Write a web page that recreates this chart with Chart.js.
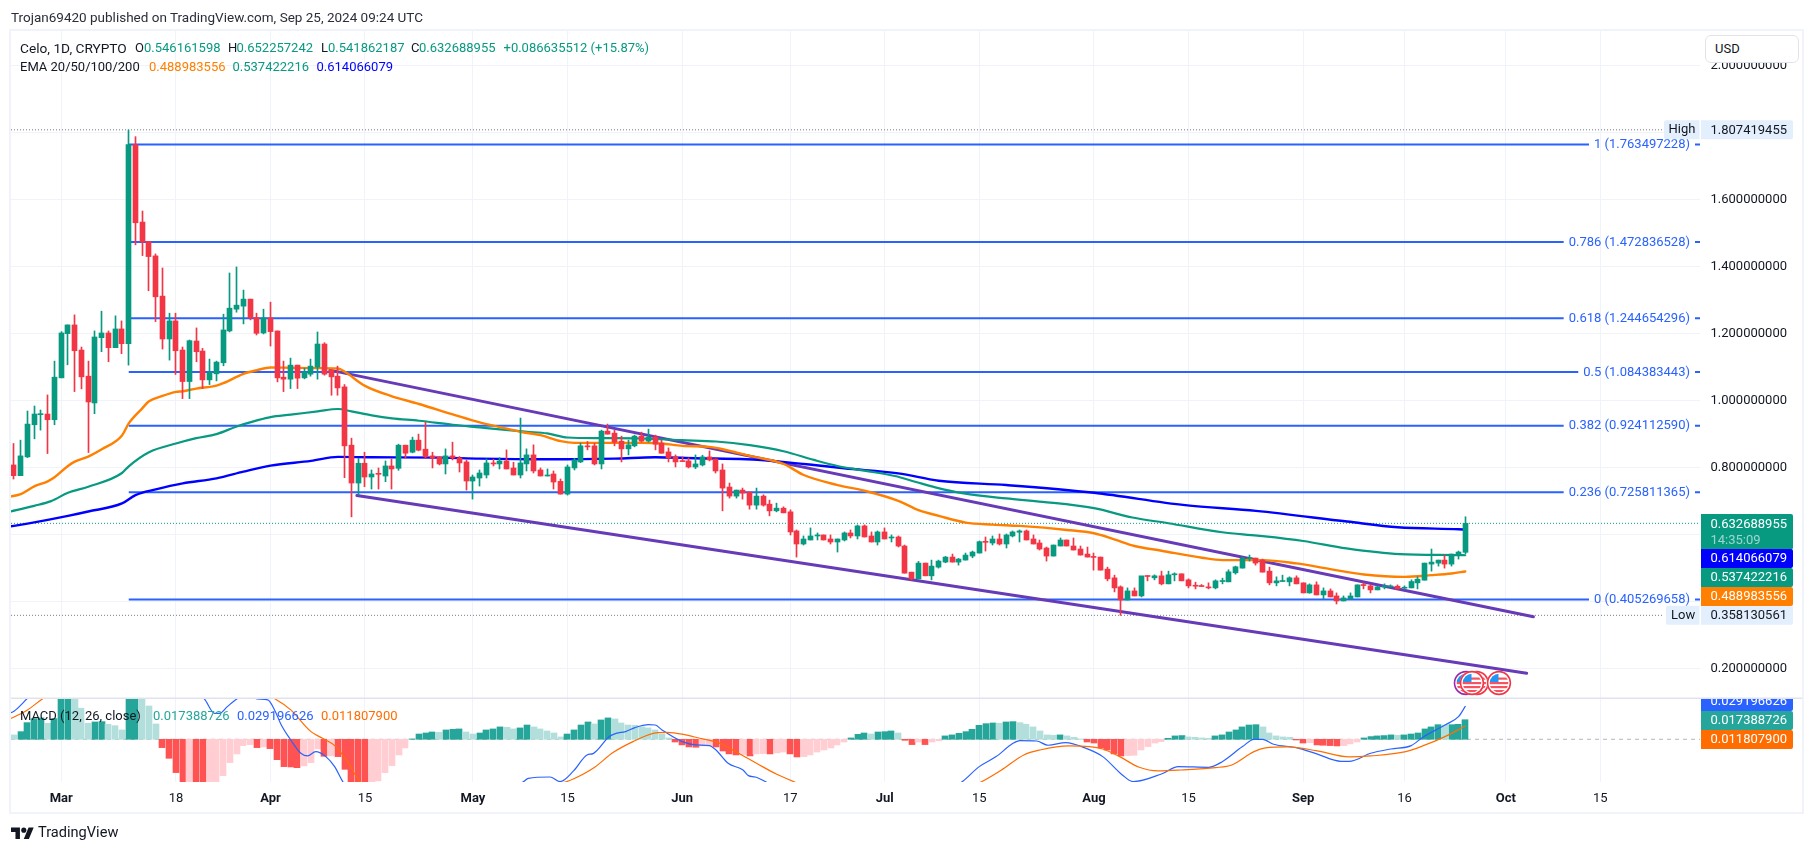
<!DOCTYPE html>
<html><head><meta charset="utf-8">
<script src="https://cdn.jsdelivr.net/npm/chart.js@4"></script>
<style>
html,body{margin:0;padding:0;background:#fff;width:1814px;height:853px;overflow:hidden}
canvas{position:absolute;left:0;top:0}
.t{position:absolute;font:13px Roboto,sans-serif;color:#131722;white-space:pre;line-height:16px}
</style></head><body>
<canvas id="c" width="1814" height="853"></canvas>
<div class="t" style="left:11px;top:9px;color:#2a2e39;font-size:13.5px">Trojan69420 published on TradingView.com, Sep 25, 2024 09:24 UTC</div>
<div class="t" style="left:20px;top:40px;font-size:13.7px">Celo, 1D, CRYPTO</div>
<div class="t" style="left:135px;top:40px">O</div><div class="t" style="left:144px;top:40px;color:#089981">0.546161598</div>
<div class="t" style="left:228px;top:40px">H</div><div class="t" style="left:236.5px;top:40px;color:#089981">0.652257242</div>
<div class="t" style="left:321px;top:40px">L</div><div class="t" style="left:328px;top:40px;color:#089981">0.541862187</div>
<div class="t" style="left:411px;top:40px">C</div><div class="t" style="left:419px;top:40px;color:#089981">0.632688955</div>
<div class="t" style="left:503.5px;top:40px;color:#089981">+0.086635512 (+15.87%)</div>
<div class="t" style="left:20px;top:59px">EMA 20/50/100/200</div>
<div class="t" style="left:149px;top:59px;color:#ff7f00">0.488983556</div>
<div class="t" style="left:232.5px;top:59px;color:#089981">0.537422216</div>
<div class="t" style="left:316.5px;top:59px;color:#0000ff">0.614066079</div>
<div class="t" style="left:20px;top:708px">MACD (12, 26, close)</div>
<div class="t" style="left:153px;top:708px;color:#26a69a">0.017388726</div>
<div class="t" style="left:237px;top:708px;color:#2962ff">0.029196626</div>
<div class="t" style="left:321px;top:708px;color:#ff6d00">0.011807900</div>
<div style="position:absolute;left:1705px;top:35px;width:92px;height:26px;border:1px solid #e0e3eb;border-radius:6px;background:#fff"></div>
<div class="t" style="left:1715px;top:41px">USD</div>
<svg style="position:absolute;left:11px;top:824.5px" width="23" height="18" viewBox="0 0 36 28"><path fill="#131722" d="M14 22H7V11H0V4h14v18zM28 22h-8l7.5-18h8L28 22z"/><circle fill="#131722" cx="20" cy="8" r="4"/></svg>
<div class="t" style="left:38px;top:824px;font-size:14.6px;color:#131722">TradingView</div>
<script>
const opens=[.807,.775,.831,.927,.957,.959,.942,1.067,1.199,1.225,
1.150,1.072,.992,1.187,1.201,1.157,1.213,1.169,1.763,1.532,
1.474,1.431,1.311,1.183,1.237,1.150,1.056,1.177,1.147,1.061,
1.079,1.112,1.207,1.272,1.281,1.302,1.247,1.201,1.246,1.207,
1.069,1.063,1.105,1.067,1.078,1.099,1.168,1.090,1.072,1.040,
.866,.753,.812,.771,.780,.774,.804,.797,.866,.845,
.881,.854,.834,.831,.810,.834,.828,.816,.759,.768,
.777,.813,.810,.819,.798,.777,.810,.837,.792,.774,
.780,.758,.720,.798,.816,.863,.864,.810,.908,.902,
.878,.855,.864,.893,.878,.890,.872,.846,.831,.819,
.819,.801,.807,.831,.825,.792,.741,.714,.732,.726,
.687,.714,.690,.670,.678,.667,.610,.571,.583,.595,
.598,.586,.577,.583,.604,.595,.625,.595,.577,.607,
.589,.592,.565,.487,.467,.514,.476,.502,.517,.532,
.517,.523,.535,.544,.578,.574,.586,.571,.595,.606,
.610,.586,.574,.559,.535,.565,.583,.565,.556,.541,
.534,.532,.496,.470,.443,.404,.431,.416,.476,.470,
.476,.452,.479,.482,.464,.447,.446,.442,.440,.459,
.458,.485,.499,.527,.529,.523,.490,.455,.459,.458,
.470,.455,.425,.449,.419,.431,.416,.401,.407,.413,
.449,.446,.434,.443,.443,.445,.439,.440,.455,.463,
.511,.514,.523,.511,.538,.5462];
const highs=[.871,.881,.968,.983,.971,1.016,1.117,1.205,1.225,1.255,
1.159,1.117,1.207,1.266,1.207,1.252,1.237,1.807,1.787,1.565,
1.474,1.437,1.395,1.260,1.260,1.159,1.180,1.216,1.155,1.123,
1.117,1.257,1.380,1.398,1.329,1.302,1.260,1.272,1.293,1.207,
1.117,1.126,1.105,1.096,1.123,1.204,1.172,1.090,1.102,1.047,
.887,.827,.845,.792,.798,.819,.825,.869,.866,.890,
.899,.935,.845,.831,.855,.875,.832,.822,.777,.792,
.825,.824,.829,.852,.815,.947,.855,.867,.798,.795,
.789,.765,.807,.827,.872,.877,.872,.911,.929,.911,
.893,.881,.896,.905,.914,.896,.881,.858,.837,.831,
.828,.837,.836,.849,.825,.810,.753,.732,.738,.726,
.738,.718,.702,.693,.682,.673,.613,.595,.619,.604,
.598,.598,.586,.607,.613,.628,.628,.607,.610,.619,
.598,.595,.568,.487,.519,.514,.523,.523,.534,.541,
.528,.544,.550,.580,.592,.595,.601,.601,.610,.613,
.613,.598,.583,.562,.568,.589,.583,.589,.565,.562,
.544,.532,.502,.478,.446,.440,.440,.452,.476,.479,
.490,.490,.485,.482,.467,.457,.450,.455,.464,.469,
.494,.505,.532,.538,.529,.526,.502,.473,.478,.473,
.476,.455,.452,.458,.440,.437,.425,.416,.425,.449,
.455,.449,.446,.452,.449,.449,.446,.464,.473,.514,
.556,.523,.538,.541,.550,.6523];
const lows=[.765,.775,.829,.885,.911,.841,.927,1.067,1.106,1.026,
1.034,.844,.960,1.145,1.115,1.157,1.139,1.105,1.464,1.432,
1.327,1.235,1.153,1.120,1.077,1.005,1.005,1.115,1.035,1.047,
1.058,1.103,1.204,1.263,1.228,1.240,1.195,1.198,1.162,1.055,
1.026,1.035,1.035,1.064,1.072,1.063,1.075,1.015,1.015,.769,
.652,.717,.742,.735,.735,.757,.735,.791,.828,.843,
.849,.828,.798,.807,.780,.822,.786,.732,.705,.744,
.768,.804,.795,.795,.777,.768,.789,.783,.774,.774,
.735,.720,.717,.792,.814,.852,.807,.795,.899,.864,
.816,.837,.861,.875,.875,.852,.842,.816,.801,.817,
.798,.796,.804,.819,.783,.670,.708,.708,.705,.675,
.675,.684,.655,.667,.664,.598,.532,.568,.583,.583,
.583,.571,.547,.580,.589,.586,.592,.577,.568,.586,
.577,.562,.484,.464,.467,.476,.464,.499,.515,.517,
.508,.523,.530,.544,.550,.568,.568,.559,.592,.577,
.583,.571,.553,.520,.535,.565,.565,.553,.538,.532,
.493,.493,.461,.428,.358,.404,.416,.413,.461,.464,
.449,.452,.461,.461,.440,.437,.444,.437,.437,.452,
.458,.481,.499,.520,.508,.487,.449,.446,.459,.446,
.452,.425,.424,.419,.407,.413,.392,.401,.407,.413,
.437,.425,.434,.437,.442,.437,.436,.440,.437,.463,
.490,.505,.499,.505,.526,.5419];
const closes=[.775,.834,.929,.959,.959,.942,1.069,1.201,1.225,1.148,
1.070,.995,1.189,1.201,1.157,1.213,1.169,1.763,1.530,1.473,
1.429,1.309,1.183,1.237,1.148,1.056,1.178,1.145,1.061,1.084,
1.114,1.210,1.275,1.284,1.302,1.246,1.200,1.246,1.205,1.067,
1.063,1.105,1.066,1.084,1.102,1.168,1.078,1.070,1.037,.864,
.753,.812,.771,.780,.779,.804,.795,.866,.842,.881,
.851,.831,.828,.810,.834,.828,.813,.759,.771,.783,
.813,.810,.819,.795,.777,.813,.837,.789,.774,.777,
.756,.720,.801,.822,.864,.861,.810,.908,.899,.875,
.855,.867,.893,.878,.890,.869,.842,.828,.816,.817,
.801,.810,.831,.822,.789,.738,.714,.732,.723,.687,
.714,.687,.670,.678,.664,.607,.571,.586,.595,.598,
.583,.577,.586,.604,.595,.625,.592,.577,.607,.586,
.592,.565,.484,.467,.514,.476,.505,.520,.532,.517,
.526,.538,.547,.578,.576,.586,.571,.598,.607,.610,
.583,.571,.556,.535,.568,.583,.565,.553,.538,.532,
.531,.493,.467,.440,.404,.431,.416,.476,.474,.476,
.452,.479,.482,.461,.446,.445,.444,.440,.461,.461,
.488,.503,.529,.529,.514,.487,.455,.461,.461,.470,
.452,.425,.449,.419,.431,.413,.401,.410,.416,.449,
.447,.434,.443,.445,.445,.437,.442,.459,.466,.514,
.517,.523,.511,.541,.547,.6327];

const tickDays=[7,24,38,52,68,82,99,115,129,143,160,174,191,206,221,235];
const tickLabels=['Mar','18','Apr','15','May','15','Jun','17','Jul','15','Aug','15','Sep','16','Oct','15'];
const monthTickDays=[7,38,68,99,129,160,191,221];
const priceTicks=[2,1.8,1.6,1.4,1.2,1,.8,.6,.4,.2];

const fibLevels=['1','0.786','0.618','0.5','0.382','0.236','0'];
const fibValues=[1.763497228,1.472836528,1.244654296,1.084383443,.924112590,.725811365,.405269658];
const fibStartDay=17;
const highValue=1.807419455, lowValue=.358130561, lastClose=.632688955;

const trendUpperDays=[46.8,225.1], trendUpperValues=[1.090,.354];
const trendLowerDays=[50.8,224.1], trendLowerValues=[.716,.185];

const emaOrangeDays=[-1,1,3,5,6,8,9,11,13,16,17,19,20,22,24,25,27,30,31,34,36,38,41,45,48,49,52,56,60,65,69,72,75,78,81,83,87,93,96,99,103,105,109,114,117,122,126,131,134,137,141,145,149,156,160,163,166,170,176,179,185,190,195,200,206,210,213,215];
const emaOrangeValues=[.711,.720,.743,.758,.770,.804,.817,.832,.854,.895,.931,.976,.997,1.013,1.025,1.027,1.035,1.044,1.051,1.079,1.090,1.098,1.097,1.096,1.095,1.085,1.043,1.012,.989,.958,.934,.920,.906,.896,.878,.873,.873,.873,.871,.864,.861,.854,.834,.810,.777,.747,.730,.700,.672,.655,.635,.629,.625,.613,.603,.585,.565,.551,.530,.523,.523,.513,.496,.480,.473,.478,.483,.489];
const emaGreenDays=[-1,3,5.5,8,11,16,17,20,24,27,30,33,36,38,41,45,48,50,53,56,60,65,69,72,76,79,82,87,93,99,104,109,114,118.5,122,126,130.5,133.5,136.5,140.7,147,152.4,160,165.7,171,179,184.2,191,197.4,205.3,214,215];
const emaGreenValues=[.666,.685,.699,.724,.742,.783,.803,.845,.871,.887,.899,.922,.940,.950,.957,.967,.974,.967,.955,.946,.939,.927,.919,.913,.906,.901,.889,.887,.886,.881,.877,.866,.848,.822,.804,.790,.774,.757,.740,.722,.707,.697,.678,.650,.633,.606,.596,.580,.558,.541,.538,.5374];
const emaBlueDays=[-1,2,5,8,11,16,18,21,25,30,34,38,44,48,53,63,69,79,89,95,101,108.5,113.5,118.5,123,131,137,147,160,173.5,184,197.5,205,214,215];
const emaBlueValues=[.622,.632,.643,.655,.668,.692,.717,.734,.752,.767,.787,.805,.819,.831,.830,.829,.826,.824,.826,.830,.827,.824,.817,.807,.797,.782,.760,.747,.724,.687,.670,.638,.621,.615,.614];

const macdHist=[.0039,.0068,.0148,.0184,.0190,.0142,.0184,.0385,.0391,.0370,
.0276,.0142,.0154,.0157,.0133,.0121,.0083,.0400,.0415,.0385,
.0296,.0136,-.0074,-.0169,-.0296,-.0400,-.0385,-.0400,-.0415,-.0391,
-.0379,-.0323,-.0207,-.0130,-.0056,-.0047,-.0074,-.0068,-.0083,-.0181,
-.0243,-.0246,-.0252,-.0237,-.0207,-.0086,-.0151,-.0148,-.0154,-.0267,
-.0400,-.0403,-.0406,-.0394,-.0370,-.0296,-.0234,-.0139,-.0077,.0003,
.0047,.0056,.0065,.0062,.0083,.0089,.0092,.0065,.0047,.0056,
.0083,.0092,.0110,.0107,.0092,.0101,.0127,.0110,.0092,.0074,
.0056,.0021,.0047,.0083,.0127,.0154,.0136,.0172,.0190,.0181,
.0145,.0127,.0124,.0110,.0101,.0083,.0047,.0012,-.0024,-.0050,
-.0068,-.0071,-.0059,-.0056,-.0068,-.0104,-.0130,-.0139,-.0136,-.0148,
-.0130,-.0127,-.0130,-.0121,-.0113,-.0130,-.0157,-.0154,-.0139,-.0113,
-.0095,-.0077,-.0050,-.0024,.0012,.0044,.0056,.0047,.0065,.0068,
.0074,.0056,-.0009,-.0047,-.0024,-.0047,-.0024,-.0012,.0030,.0039,
.0053,.0068,.0089,.0124,.0139,.0145,.0142,.0154,.0157,.0148,
.0133,.0110,.0074,.0039,.0036,.0039,.0030,.0018,.0003,-.0024,
-.0033,-.0077,-.0095,-.0130,-.0148,-.0145,-.0142,-.0095,-.0065,-.0033,
-.0021,.0009,.0030,.0033,.0021,.0018,.0012,.0009,.0030,.0039,
.0065,.0083,.0110,.0127,.0130,.0110,.0056,.0030,.0021,.0018,
-.0006,-.0033,-.0030,-.0050,-.0053,-.0056,-.0059,-.0056,-.0041,-.0024,
.0012,.0024,.0030,.0033,.0039,.0036,.0039,.0047,.0056,.0092,
.0110,.0130,.0127,.0130,.0133,.0174];
const macdDays=[-1,0,2,4,7,12,17,22,26,28.2,29.7,30.5,31.6,33,34.5,36,37.6,38.6,39.6,41,42.5,43.5,44.7,46.2,47.5,48.7,52,58,65,72,75.5,76.2,79.4,80.9,82.9,84.9,85.8,88.2,89.2,90.6,92,94,95,96,99,101,103,104,105.8,108,108.8,109.8,111.3,116,124,130,136,140.5,143,145.5,148,149,151.5,153.2,155.8,158.8,161.3,164.2,165.8,170,172.5,177,179,182,183.7,185,186.6,190,193,196.6,197.8,201,204,207,208.7,212,214,215];
const macdValues=[.0225,.0250,.0365,.0480,.0620,.0750,.0850,.0700,.0450,.0359,.0231,.0231,.0290,.0359,.0400,.0359,.0350,.0261,.0127,-.0006,-.0124,-.0148,-.0110,-.0154,-.0243,-.0376,-.0650,-.0900,-.0700,-.0500,-.0376,-.0347,-.0335,-.0376,-.0281,-.0139,-.0127,.0024,.0053,.0068,.0104,.0130,.0127,.0083,-.0021,-.0050,-.0056,-.0095,-.0213,-.0273,-.0323,-.0335,-.0376,-.0550,-.0750,-.0700,-.0550,-.0376,-.0243,-.0154,-.0036,-.0012,-.0015,-.0053,-.0030,-.0080,-.0154,-.0317,-.0376,-.0308,-.0243,-.0249,-.0199,-.0065,0,0,-.0044,-.0074,-.0130,-.0196,-.0196,-.0124,-.0086,-.0056,.0018,.0127,.0201,.0292];
const signalDays=[-1,2,4.2,12,25,38.7,41,44,45.7,47.7,49.4,51.2,60,72,81.9,83.1,85.8,88.8,91.7,94.7,96.7,99.2,101.6,104.6,107.6,110,113,115.5,125,135,143.4,146.3,149.6,152,156.3,159.3,161.3,163.8,166.7,169.5,172.9,178,180.4,183.7,185.4,188.7,192.9,197.8,201,206.2,208.7,212,215];
const signalValues=[.0170,.0261,.0359,.0650,.0700,.0359,.0261,.0068,.0009,-.0065,-.0199,-.0370,-.0600,-.0550,-.0376,-.0347,-.0258,-.0116,-.0021,.0053,.0062,.0044,.0009,-.0036,-.0133,-.0213,-.0311,-.0376,-.0650,-.0600,-.0376,-.0273,-.0139,-.0095,-.0059,-.0065,-.0086,-.0154,-.0249,-.0281,-.0273,-.0252,-.0228,-.0110,-.0077,-.0068,-.0101,-.0157,-.0148,-.0110,-.0059,.0024,.0118];

const eventDays=[215.1,216.7,216,220];
const eventRings=['#9c27b0','#f23645','#f23645','#f23645'];

const UP='#089981',DOWN='#f23645',GRID='#f0f3fa',FONT='Roboto, sans-serif';
const xMin=-0.444,xMax=249.78;
const pxPerDay=(1700-11)/(xMax-xMin);
const days=closes.map((_,i)=>i);
const pts=(xs,ys)=>xs.map((x,i)=>({x,y:ys[i]}));
const isUp=i=>closes[i]>=opens[i];
const candleColors=days.map(i=>isUp(i)?UP:DOWN);
const histColors=macdHist.map((v,i)=>{const p=macdHist[i-1];const rising=p!==undefined&&v>p;
  return v>=0?(rising?'#26a69a':'#b2dfdb'):(rising||p===undefined?'#ffcdd2':'#ff5252');});

const meas=document.createElement('canvas').getContext('2d');meas.font='13px '+FONT;
const fibText=i=>fibLevels[i]+' ('+fibValues[i].toFixed(9)+')';
const fibSets=fibValues.map((v,i)=>{
  const w=meas.measureText(fibText(i)).width;
  const endLine=xMax-(10+w+5)/pxPerDay, tail=xMax-5/pxPerDay;
  return {type:'line',yAxisID:'y',order:5,borderColor:'#2962ff',borderWidth:2,pointRadius:0,spanGaps:false,
    data:[{x:fibStartDay,y:v},{x:endLine,y:v},{x:endLine+.01,y:null},{x:tail,y:v},{x:xMax,y:v}]};
});
const lineSet=(xs,ys,color,w,axis,order,extra)=>Object.assign({type:'line',yAxisID:axis,order,borderColor:color,borderWidth:w,pointRadius:0,data:pts(xs,ys),borderCapStyle:'round'},extra||{});
const smooth={cubicInterpolationMode:'monotone'};

const snapPlugin={id:'snap',beforeDatasetsDraw(chart){
  chart.data.datasets.forEach((d,di)=>{ if(d.type!=='bar')return;
    chart.getDatasetMeta(di).data.forEach(el=>{ el.x = d.snapOdd ? Math.floor(el.x)+.5 : Math.round(el.x); });
  });
}};
const clipPlugin={id:'paneClip',
  beforeDatasetDraw(chart,args){const y=args.meta.yScale,a=chart.chartArea,c=chart.ctx;c.save();c.beginPath();c.rect(a.left,y.top,a.right-a.left,y.bottom-y.top);c.clip();},
  afterDatasetDraw(chart){chart.ctx.restore();}};
const framePlugin={id:'frame',
  beforeDraw(chart){const c=chart.ctx;c.save();c.fillStyle='#fff';c.fillRect(0,0,1814,853);
    c.strokeStyle='#f0f3fa';c.lineWidth=2;c.strokeRect(10,30,1793,783);c.restore();},
  afterDraw(chart){
    const c=chart.ctx,Y=chart.scales.y,X=chart.scales.x;
    c.save();
    c.fillStyle='#e0e3eb';c.fillRect(11,697.5,1791,1.5);
    c.font='13px '+FONT;c.textBaseline='middle';
    c.fillStyle='#2962ff';c.textAlign='right';
    fibValues.forEach((v,i)=>c.fillText(fibText(i),1690,Y.getPixelForValue(v)+.5));
    c.textAlign='left';
    const box=(y0,y1,bg,txt,fg)=>{c.fillStyle=bg;c.beginPath();c.roundRect(1701,y0,92,y1-y0,[0,2,2,0]);c.fill();
      if(txt){c.fillStyle=fg;c.fillText(txt,1710.5,(y0+y1)/2+.5);}};
    const pale='#e3effd';
    const yH=Y.getPixelForValue(highValue),yL=Y.getPixelForValue(lowValue);
    c.fillStyle=pale;c.beginPath();c.roundRect(1664,yH-9.5,35.5,19,[2,0,0,2]);c.fill();
    c.beginPath();c.roundRect(1666,yL-9.5,33.5,19,[2,0,0,2]);c.fill();
    c.fillStyle='#131722';c.fillText('High',1668.5,yH);c.fillText('Low',1671,yL);
    box(yH-9.5,yH+9.5,pale,highValue.toFixed(9),'#131722');
    box(yL-9.5,yL+9.5,pale,lowValue.toFixed(9),'#131722');
    c.fillStyle=UP;c.beginPath();c.roundRect(1701,514,92,35.5,[0,2,2,0]);c.fill();
    c.fillStyle='#fff';c.fillText(lastClose.toFixed(9),1710.5,524.5);
    c.fillStyle='rgba(255,255,255,.6)';c.fillText('14:35:09',1710.5,540.5);
    box(549,568,'#0000ff','0.614066079','#fff');
    box(568,587,UP,'0.537422216','#fff');
    box(587,606,'#ff7f00','0.488983556','#fff');
    c.save();c.beginPath();c.rect(1701,699,92,60);c.clip();
    box(692,711,'#2962ff','0.029196626','#fff');c.restore();
    box(711,730,'#26a69a','0.017388726','#fff');
    box(730,749,'#ff6d00','0.011807900','#fff');
    const cy=683;
    eventDays.forEach((d,i)=>{const x=X.getPixelForValue(d);
      c.save();c.beginPath();c.arc(x,cy,12,0,7);c.fillStyle='#fff';c.fill();
      c.lineWidth=1.6;c.strokeStyle=eventRings[i];c.beginPath();c.arc(x,cy,11.4,0,7);c.stroke();
      c.beginPath();c.arc(x,cy,9.3,0,7);c.clip();
      c.fillStyle='#fff';c.fillRect(x-10,cy-10,20,20);
      c.fillStyle='#f7525f';[-1,3,7].forEach(o=>c.fillRect(x-10,cy+o,20,2.2));
      c.fillRect(x-1,cy-5.5,11,2.2);
      c.fillStyle='#2196f3';c.fillRect(x-10,cy-10,9.5,9);
      c.restore();});
    c.restore();
  }};

new Chart(document.getElementById('c'),{
  data:{datasets:[
    {type:'bar',yAxisID:'y',order:0,grouped:false,barThickness:5,minBarLength:1,backgroundColor:candleColors,snapOdd:true,
      data:days.map(i=>({x:i,y:[Math.min(opens[i],closes[i]),Math.max(opens[i],closes[i])]}))},
    {type:'bar',yAxisID:'y',order:1,grouped:false,barThickness:1,backgroundColor:candleColors,snapOdd:true,
      data:days.map(i=>({x:i,y:[lows[i],highs[i]]}))},
    lineSet(emaOrangeDays,emaOrangeValues,'#ff8000',2.4,'y',3,smooth),
    lineSet(emaGreenDays,emaGreenValues,'#089981',2.2,'y',3.1,smooth),
    lineSet(emaBlueDays,emaBlueValues,'#0000ff',2.4,'y',3.2,smooth),
    lineSet(trendUpperDays,trendUpperValues,'#673ab7',3,'y',4),
    lineSet(trendLowerDays,trendLowerValues,'#673ab7',3,'y',4),
    ...fibSets,
    lineSet([xMin,244.3],[highValue,highValue],'#787b86',1,'y',6,{borderDash:[1,2],borderCapStyle:'butt'}),
    lineSet([xMin,244.3],[lowValue,lowValue],'#787b86',1,'y',6,{borderDash:[1,2],borderCapStyle:'butt'}),
    lineSet([xMin,xMax],[lastClose,lastClose],UP,1,'y',6,{borderDash:[1,2],borderCapStyle:'butt'}),
    lineSet(macdDays,macdValues,'#2962ff',1.2,'yMacd',0.5,smooth),
    lineSet(signalDays,signalValues,'#ff6d00',1.2,'yMacd',0.4,smooth),
    {type:'bar',yAxisID:'yMacd',order:1.5,grouped:false,barThickness:6,backgroundColor:histColors,
      data:days.map(i=>({x:i,y:macdHist[i]}))},
    lineSet([xMin,xMax],[0,0],'#b2b5be',1,'yMacd',1.6,{borderDash:[4,4],borderCapStyle:'butt'})
  ]},
  options:{responsive:false,animation:false,
    layout:{padding:{left:11,top:31,right:0,bottom:40}},
    plugins:{legend:{display:false},title:{display:false},tooltip:{enabled:false}},
    events:[],
    scales:{
      x:{type:'linear',position:'bottom',min:xMin,max:xMax,offset:false,
        afterBuildTicks:s=>{s.ticks=tickDays.map(value=>({value}));},
        afterFit:s=>{s.height=31;s.paddingLeft=0;s.paddingRight=0;},
        ticks:{autoSkip:false,maxRotation:0,padding:9,color:'#131722',
          callback:v=>tickLabels[tickDays.indexOf(v)],
          font:ctx=>({family:FONT,size:13,weight:monthTickDays.includes(ctx.tick&&ctx.tick.value)?'bold':'normal'})},
        grid:{color:GRID,drawTicks:false,offset:false},border:{display:false}},
      y:{type:'linear',position:'right',stack:'p',stackWeight:667,min:.1113,max:2.1024,
        afterBuildTicks:s=>{s.ticks=priceTicks.map(value=>({value}));},
        afterFit:s=>{s.width=114;s.paddingTop=0;s.paddingBottom=0;},
        ticks:{padding:10.5,color:'#131722',callback:v=>v.toFixed(9),font:{family:FONT,size:13},autoSkip:false},
        grid:{color:GRID,drawTicks:false},border:{display:false}},
      yMacd:{type:'linear',position:'right',stack:'p',stackWeight:84,min:-.03796,max:.0367,
        afterFit:s=>{s.width=114;s.paddingTop=0;s.paddingBottom=0;},
        ticks:{display:false},grid:{display:false},border:{display:false}}
    }
  },
  plugins:[snapPlugin,clipPlugin,framePlugin]
});
</script>
</body></html>
